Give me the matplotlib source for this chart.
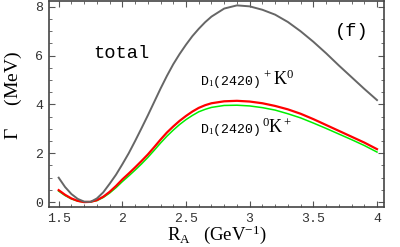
import matplotlib
matplotlib.use("Agg")
import matplotlib.pyplot as plt
from matplotlib.ticker import MultipleLocator

# R_A in GeV^-1
r_a = [1.5, 1.55, 1.6, 1.65, 1.7, 1.75, 1.8, 1.85, 1.9, 1.95, 2.0, 2.05, 2.1, 2.15,
       2.2, 2.25, 2.3, 2.35, 2.4, 2.45, 2.5, 2.55, 2.6, 2.65, 2.7, 2.8, 2.9, 3.0,
       3.1, 3.2, 3.3, 3.4, 3.5, 3.6, 3.7, 3.8, 3.9, 4.0]

# widths in MeV
total = [1.0, 0.62, 0.33, 0.13, 0.02, 0.01, 0.15, 0.4, 0.75, 1.12, 1.55, 2.0, 2.5, 3.02,
         3.55, 4.1, 4.65, 5.17, 5.65, 6.07, 6.45, 6.8, 7.1, 7.37, 7.6, 7.93, 8.06, 8.02,
         7.88, 7.68, 7.38, 7.0, 6.57, 6.1, 5.6, 5.12, 4.64, 4.18]
d1_plus_k0 = [0.49, 0.3, 0.15, 0.05, 0.0, 0.01, 0.08, 0.22, 0.42, 0.66, 0.93, 1.17, 1.42, 1.68,
              1.95, 2.25, 2.56, 2.85, 3.1, 3.33, 3.53, 3.71, 3.86, 3.97, 4.05, 4.13, 4.15, 4.12,
              4.05, 3.94, 3.8, 3.62, 3.4, 3.16, 2.92, 2.68, 2.44, 2.17]
d1_zero_kp = [0.45, 0.27, 0.13, 0.04, 0.0, 0.01, 0.06, 0.19, 0.37, 0.59, 0.84, 1.07, 1.31, 1.56,
              1.83, 2.12, 2.42, 2.7, 2.95, 3.18, 3.38, 3.55, 3.7, 3.8, 3.88, 3.96, 3.97, 3.94,
              3.87, 3.77, 3.62, 3.45, 3.24, 3.02, 2.79, 2.56, 2.32, 2.05]

mono = "Liberation Mono"
serif = "Liberation Serif"
plt.rcParams["mathtext.fontset"] = "custom"
plt.rcParams["mathtext.rm"] = serif
plt.rcParams["mathtext.it"] = serif + ":italic"

fig = plt.figure(figsize=(4.0, 2.47), dpi=100)
ax = fig.add_axes([0.1225, 0.162, 0.8375, 0.834])

ax.plot(r_a, d1_zero_kp, color="#00ee00", lw=1.1, zorder=2)
ax.plot(r_a, d1_plus_k0, color="#ff0000", lw=1.6, zorder=3)
ax.plot(r_a, total, color="#666666", lw=1.4, zorder=4)

ax.set_xlim(1.424, 4.055)
ax.set_ylim(-0.2, 8.24)
ax.xaxis.set_major_locator(MultipleLocator(0.5))
ax.xaxis.set_minor_locator(MultipleLocator(0.1))
ax.yaxis.set_major_locator(MultipleLocator(2))
ax.yaxis.set_minor_locator(MultipleLocator(0.5))
ax.tick_params(which="both", direction="in", top=True, right=True, color="#555555")
ax.tick_params(which="major", length=4, width=0.8, labelsize=9.5, pad=4)
ax.tick_params(which="minor", length=2, width=0.6)
ax.set_xticks([1.5, 2, 2.5, 3, 3.5, 4])
ax.set_xticklabels(["1.5", "2", "2.5", "3", "3.5", "4"])
for lab in ax.get_xticklabels() + ax.get_yticklabels():
    lab.set_fontfamily(mono)
    lab.set_color("#333333")
for s in ax.spines.values():
    s.set_color("#444444")
    s.set_linewidth(1.2)

ax.set_xlabel(r"$\mathrm{R_A}\ \ \ (\mathrm{GeV}^{-1})$", fontsize=13.5, labelpad=-1)
ax.set_ylabel(r"$\Gamma\ \ \ \ \ (\mathrm{MeV})$", fontsize=14)
ax.yaxis.set_label_coords(-0.075, 0.54)

ax.text(1.99, 6.07, "total", family=mono, fontsize=13.5, ha="center", va="center")
ax.text(3.80, 7.0, "(f)", family=mono, fontsize=13.5, ha="center", va="center")

# channel labels: small mono part followed by a serif part
t1 = ax.text(2.61, 4.92, "D$_1$(2420)", family=mono, fontsize=9.5, va="center")
ax.annotate(r"$^+\mathrm{K}^0$", xy=(1, 0.5), xycoords=t1, va="center",
            fontsize=13, xytext=(1, 2), textcoords="offset points")
t2 = ax.text(2.61, 2.95, "D$_1$(2420)", family=mono, fontsize=9.5, va="center")
ax.annotate(r"$^0\mathrm{K}^+$", xy=(1, 0.5), xycoords=t2, va="center",
            fontsize=13, xytext=(1, 2), textcoords="offset points")

fig.savefig("out.png", dpi=100)
